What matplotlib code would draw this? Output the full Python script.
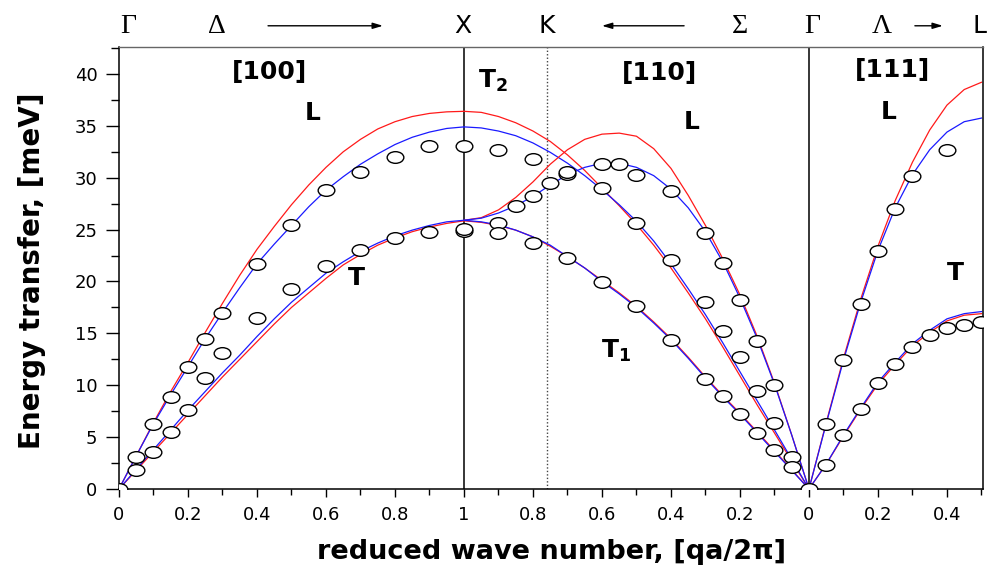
import numpy as np
import matplotlib
matplotlib.use("Agg")
import matplotlib.pyplot as plt
from matplotlib.path import Path
from matplotlib.transforms import Affine2D, blended_transform_factory

## curves (Born-von Karman fits)
## [100]  Gamma -> X, q step 0.05
q100 = np.round(np.arange(0, 1.0001, 0.05), 2)
L100_blue = [0, 3.2, 6.3, 9.1, 11.8, 14.5, 17.0, 19.4, 21.7, 23.6, 25.4, 27.2, 28.8, 30.1, 31.3, 32.3, 33.2, 33.9, 34.4, 34.75, 34.9]
L100_red = [0, 3.2, 6.4, 9.4, 12.2, 15.1, 17.9, 20.6, 23.1, 25.3, 27.4, 29.3, 31.0, 32.5, 33.7, 34.7, 35.4, 35.9, 36.2, 36.35, 36.4]
T100_blue = [0, 1.9, 3.8, 5.7, 7.6, 9.4, 11.2, 12.9, 14.7, 16.4, 18.0, 19.4, 20.8, 21.9, 22.9, 23.7, 24.4, 24.95, 25.4, 25.75, 25.9]
T100_red = [0, 1.8, 3.6, 5.4, 7.2, 9.0, 10.8, 12.5, 14.2, 15.9, 17.5, 18.9, 20.3, 21.6, 22.6, 23.5, 24.2, 24.8, 25.25, 25.6, 25.85]

## [110]  Gamma -> K -> X, q step 0.05 (drawn from X back to Gamma)
q110 = np.round(np.arange(0, 1.0001, 0.05), 2)
A110_blue = [0, 2.85, 5.7, 8.5, 11.3, 14.1, 16.8, 19.3, 21.7, 23.9, 25.8, 27.4, 28.85, 30.2, 31.4, 32.45, 33.35, 34.05, 34.5, 34.8, 34.9]
A110_red = [0, 2.7, 5.4, 8.1, 10.9, 13.7, 16.4, 18.9, 21.3, 23.5, 25.5, 27.3, 29.0, 30.7, 32.2, 33.5, 34.5, 35.3, 35.9, 36.3, 36.4]
B110_blue = [0, 5.2, 10.1, 14.5, 18.4, 21.9, 24.8, 27.1, 28.9, 30.2, 31.0, 31.4, 31.4, 31.0, 30.3, 29.3, 28.2, 27.3, 26.6, 26.1, 25.9]
B110_red = [0, 5.2, 10.2, 14.7, 18.7, 22.2, 25.4, 28.3, 30.9, 32.8, 34.0, 34.3, 34.2, 33.7, 32.7, 31.3, 29.6, 28.1, 26.9, 26.15, 25.9]
C110_blue = [0, 1.8, 3.6, 5.4, 7.2, 8.9, 10.7, 12.6, 14.4, 16.0, 17.5, 18.8, 20.0, 21.3, 22.4, 23.5, 24.3, 24.95, 25.45, 25.75, 25.9]
C110_red = [0, 1.85, 3.7, 5.5, 7.3, 9.0, 10.8, 12.7, 14.5, 16.1, 17.6, 18.9, 20.1, 21.3, 22.4, 23.4, 24.3, 24.95, 25.4, 25.7, 25.85]

## [111]  Gamma -> L, q step 0.05
q111 = np.round(np.arange(0, 0.5001, 0.05), 2)
L111_blue = [0, 6.3, 12.4, 18.0, 23.0, 27.1, 30.3, 32.7, 34.4, 35.4, 35.75]
L111_red = [0, 6.4, 12.6, 18.3, 23.4, 27.8, 31.5, 34.6, 37.0, 38.5, 39.2]
T111_blue = [0, 2.4, 5.2, 7.8, 10.3, 12.2, 14.0, 15.3, 16.4, 16.9, 17.1]
T111_red = [0, 2.4, 5.1, 7.7, 10.1, 12.0, 13.8, 15.1, 16.2, 16.75, 16.9]

## measured points
pL100_q = [0, 0.05, 0.1, 0.15, 0.2, 0.25, 0.3, 0.4, 0.5, 0.6, 0.7, 0.8, 0.9, 1.0]
pL100_E = [0, 3.1, 6.3, 8.9, 11.8, 14.5, 17.0, 21.7, 25.4, 28.8, 30.6, 32.0, 33.1, 33.1]
pT100_q = [0.05, 0.1, 0.15, 0.2, 0.25, 0.3, 0.4, 0.5, 0.6, 0.7, 0.8, 0.9, 1.0]
pT100_E = [1.8, 3.6, 5.5, 7.6, 10.7, 13.1, 16.5, 19.3, 21.5, 23.0, 24.2, 24.8, 24.9]
pA110_q = [0.9, 0.8, 0.7, 0.6, 0.5, 0.4, 0.3, 0.25, 0.2, 0.15, 0.1, 0.05]
pA110_E = [32.7, 31.8, 30.4, 29.0, 25.6, 22.1, 18.05, 15.2, 12.75, 9.4, 6.4, 3.1]
pB110_q = [0.9, 0.85, 0.8, 0.75, 0.7, 0.6, 0.55, 0.5, 0.4, 0.3, 0.25, 0.2, 0.15, 0.1]
pB110_E = [25.6, 27.3, 28.2, 29.5, 30.6, 31.3, 31.3, 30.3, 28.7, 24.7, 21.75, 18.2, 14.3, 10.0]
pC110_q = [1.0, 0.9, 0.8, 0.7, 0.6, 0.5, 0.4, 0.3, 0.25, 0.2, 0.15, 0.1, 0.05, 0]
pC110_E = [25.1, 24.7, 23.7, 22.3, 19.95, 17.6, 14.35, 10.6, 8.96, 7.2, 5.43, 3.76, 2.15, 0]
pL111_q = [0.05, 0.1, 0.15, 0.2, 0.25, 0.3, 0.4]
pL111_E = [6.3, 12.4, 17.8, 22.9, 27.0, 30.2, 32.7]
pT111_q = [0.05, 0.1, 0.15, 0.2, 0.25, 0.3, 0.35, 0.4, 0.45, 0.5]
pT111_E = [2.3, 5.2, 7.7, 10.25, 12.0, 13.66, 14.84, 15.55, 15.8, 16.07]

xtick_labels = ['0', '0.2', '0.4', '0.6', '0.8', '1', '0.8', '0.6', '0.4', '0.2', '0', '0.2', '0.4']

## one running coordinate: [100] 0..1, [110] 1..2 (reversed), [111] 2..2.5
def u100(q): return np.asarray(q, float)
def u110(q): return 2.0 - np.asarray(q, float)
def u111(q): return 2.0 + np.asarray(q, float)

fig = plt.figure(figsize=(9.9, 5.67), dpi=100)
ax = fig.add_axes([119/990, 1-489/567, (982.5-119)/990, (489-47)/567])

lw = 0.9
for uu, yb, yr in [(u100(q100), L100_blue, L100_red),
                   (u100(q100), T100_blue, T100_red),
                   (u110(q110), A110_blue, A110_red),
                   (u110(q110), B110_blue, B110_red),
                   (u110(q110), C110_blue, C110_red),
                   (u111(q111), L111_blue, L111_red),
                   (u111(q111), T111_blue, T111_red)]:
    ax.plot(uu, yr, color='#ff1a1a', lw=lw, zorder=2)
    ax.plot(uu, yb, color='#1a1aff', lw=lw, zorder=2)

## open ellipses (the original is stretched sideways)
ell = Path.unit_circle().transformed(Affine2D().scale(1.0, 0.7))
for uu, ee in [(u100(pL100_q), pL100_E), (u100(pT100_q), pT100_E),
               (u110(pA110_q), pA110_E), (u110(pB110_q), pB110_E),
               (u110(pC110_q), pC110_E),
               (u111(pL111_q), pL111_E), (u111(pT111_q), pT111_E)]:
    ax.plot(uu, ee, ls='none', marker=ell, ms=12, mfc='white',
            mec='black', mew=1.0, zorder=3)

## symmetry points
ax.axvline(1.0, color='black', lw=1.1, zorder=1)
ax.axvline(1.24, color='#444444', lw=1.0, ls=(0, (1, 1.5)), zorder=1)
ax.axvline(2.0, color='black', lw=1.1, zorder=1)

ax.set_xlim(0, 2.503)
ax.set_ylim(0, 42.6)
ax.set_xticks(np.arange(0, 2.41, 0.2))
ax.set_xticklabels(xtick_labels)
ax.set_xticks(np.arange(0, 2.51, 0.1), minor=True)
ax.set_yticks(np.arange(0, 41, 5))
ax.set_yticks(np.arange(0, 42.6, 2.5), minor=True)
ax.tick_params(axis='x', which='major', direction='out', length=6, width=1, pad=6, labelsize=13)
ax.tick_params(axis='x', which='minor', direction='out', length=4, width=1)
ax.tick_params(axis='y', which='major', direction='out', length=9.5, width=1, pad=6, labelsize=13)
ax.tick_params(axis='y', which='minor', direction='out', length=5.5, width=1)
for s in ['left', 'bottom', 'right']:
    ax.spines[s].set_linewidth(1.1)
ax.spines['top'].set_color('#666666')
ax.spines['top'].set_linewidth(1.0)

ax.set_xlabel('reduced wave number, [qa/2\u03c0]', fontsize=19.5, fontweight='bold', va='top')
ax.xaxis.set_label_coords(0.5006, -0.112)
ax.set_ylabel('Energy transfer, [meV]', fontsize=20, fontweight='bold')
ax.yaxis.set_label_coords(-0.085, 0.493)

## labels inside
bold = dict(fontsize=18, fontweight='bold', ha='center', va='center')
ax.text(0.435, 40.2, '[100]', **bold)
ax.text(1.567, 40.1, '[110]', **bold)
ax.text(2.243, 40.4, '[111]', **bold)
ax.text(0.562, 36.2, 'L', **bold)
ax.text(1.661, 35.4, 'L', **bold)
ax.text(2.232, 36.3, 'L', **bold)
ax.text(0.687, 20.3, 'T', **bold)
ax.text(2.423, 20.8, 'T', **bold)
ax.text(1.085, 39.3, r'$\mathbf{T_2}$', fontsize=18, ha='center', va='center')
ax.text(1.44, 13.3, r'$\mathbf{T_1}$', fontsize=18, ha='center', va='center')

## symmetry letters and arrows above the frame
tr = blended_transform_factory(ax.transData, ax.transAxes)
serif = dict(family=['Liberation Serif', 'DejaVu Serif'], fontsize=20, ha='center',
             va='baseline', transform=tr, clip_on=False)
sans = dict(fontsize=18, ha='center', va='baseline', transform=tr, clip_on=False)
ax.text(0.026, 1.032, '\u0393', **serif)
ax.text(0.284, 1.032, '\u0394', **serif)
ax.text(0.997, 1.032, 'X', **sans)
ax.text(1.24, 1.032, 'K', **sans)
ax.text(1.80, 1.032, '\u03a3', **serif)
ax.text(2.01, 1.032, '\u0393', **serif)
ax.text(2.212, 1.032, '\u039b', **serif)
ax.text(2.475, 1.032, 'L', fontsize=18, ha='left', va='baseline', transform=tr, clip_on=False)
arrow = dict(arrowstyle='-|>,head_length=0.6,head_width=0.18', color='black', lw=1,
             shrinkA=0, shrinkB=0)
for x0, x1 in [(0.432, 0.765), (1.638, 1.40), (2.307, 2.388)]:
    ax.annotate('', xy=(x1, 1.048), xytext=(x0, 1.048), xycoords=tr,
                textcoords=tr, arrowprops=arrow, annotation_clip=False)

fig.savefig('out.png', dpi=100)
